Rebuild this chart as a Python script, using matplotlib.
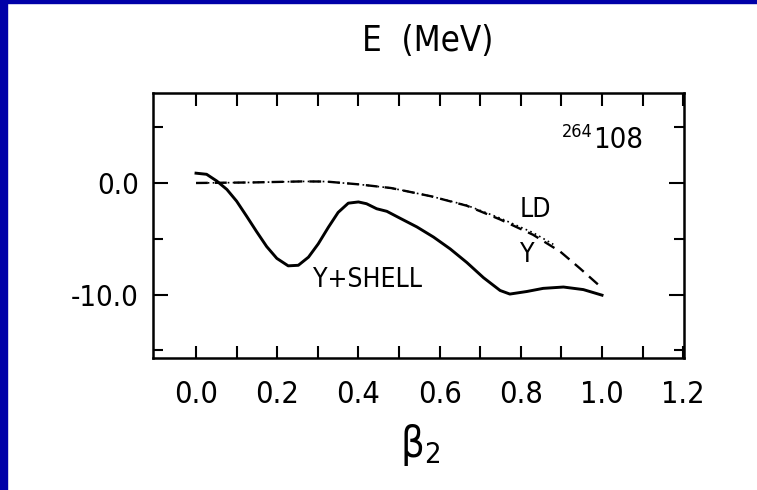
import numpy as np
import matplotlib.pyplot as plt
from matplotlib.patches import Rectangle

plt.rcParams['font.family'] = ['DejaVu Sans']
plt.rcParams['font.stretch'] = 'condensed'
plt.rcParams['axes.unicode_minus'] = False
plt.rcParams['mathtext.default'] = 'regular'

# deformation beta_2 and energies (MeV) for 264-108
beta_shell = [0.0, 0.026, 0.051, 0.076, 0.10, 0.125, 0.149, 0.174, 0.199, 0.227,
              0.252, 0.277, 0.301, 0.326, 0.35, 0.375, 0.40, 0.42, 0.445, 0.47,
              0.502, 0.544, 0.585, 0.626, 0.667, 0.708, 0.749, 0.773, 0.815,
              0.855, 0.905, 0.954, 1.0]
e_shell = [0.88, 0.78, 0.18, -0.58, -1.63, -3.0, -4.35, -5.7, -6.76, -7.43,
           -7.38, -6.65, -5.46, -3.97, -2.64, -1.81, -1.70, -1.86, -2.31, -2.54,
           -3.15, -3.94, -4.85, -5.91, -7.13, -8.49, -9.64, -9.96, -9.73,
           -9.45, -9.33, -9.56, -10.06]

beta_ld = [0.0, 0.14, 0.26, 0.32, 0.40, 0.48, 0.502, 0.58, 0.667, 0.749,
           0.83, 0.897, 0.946, 1.0]
e_ld = [0.0, 0.05, 0.14, 0.13, -0.12, -0.45, -0.61, -1.2, -2.04, -3.27,
        -4.64, -6.15, -7.67, -9.42]

beta_y = [0.0, 0.14, 0.26, 0.32, 0.40, 0.48, 0.502, 0.58, 0.667, 0.749,
          0.83, 0.88]
e_y = [0.0, 0.05, 0.14, 0.13, -0.12, -0.45, -0.61, -1.2, -2.0, -3.15,
       -4.45, -5.5]

xticks = [0.0, 0.2, 0.4, 0.6, 0.8, 1.0, 1.2]
xtick_labels = ['0.0', '0.2', '0.4', '0.6', '0.8', '1.0', '1.2']
yticks = [0.0, -10.0]
ytick_labels = ['0.0', '-10.0']

fig = plt.figure(figsize=(7.57, 4.9), dpi=100)

# blue slide frame on the left and top
fig.patches.append(Rectangle((0, 0), 7 / 757, 1, transform=fig.transFigure,
                             color='#0000a8', zorder=0))
fig.patches.append(Rectangle((0, 1 - 3 / 490), 1, 3 / 490, transform=fig.transFigure,
                             color='#0000a8', zorder=0))

ax = fig.add_axes([0.2021, 0.2704, 0.7015, 0.5398])

ax.plot(beta_shell, e_shell, color='black', lw=2.1)
ax.plot(beta_ld, e_ld, color='black', lw=1.7, ls=(0, (5, 3)))
ax.plot(beta_y, e_y, color='black', lw=1.2, ls=(2, (1, 2)))

ax.set_xlim(-0.106, 1.202)
ax.set_ylim(-15.65, 8.07)

ax.set_xticks(xticks)
ax.set_xticklabels(xtick_labels)
ax.set_xticks(np.arange(0.1, 1.15, 0.2), minor=True)
ax.set_yticks(yticks)
ax.set_yticklabels(ytick_labels)
ax.set_yticks([5.0, -5.0, -15.0], minor=True)

ax.tick_params(axis='x', which='both', direction='in', top=True, length=9,
               width=1.5, labelsize=22, pad=16)
ax.tick_params(axis='y', which='major', direction='in', right=True, length=11,
               width=1.5, labelsize=21, pad=10)
ax.tick_params(axis='y', which='minor', direction='in', right=True, length=7,
               width=1.5)
for s in ax.spines.values():
    s.set_linewidth(1.8)

ax.text(0.796, -3.05, 'LD', fontsize=19)
ax.text(0.798, -7.09, 'Y', fontsize=19)
ax.text(0.288, -9.33, 'Y+SHELL', fontsize=19)
ax.text(0.901, 4.13, '264', fontsize=13)
ax.text(0.978, 3.14, '108', fontsize=21)

fig.text(0.565, 0.916, 'E  (MeV)', fontsize=25, ha='center', va='center')
fig.text(0.555, 0.092, r'$\beta_2$', fontsize=30, ha='center', va='center')

plt.savefig('out.png', dpi=100)
